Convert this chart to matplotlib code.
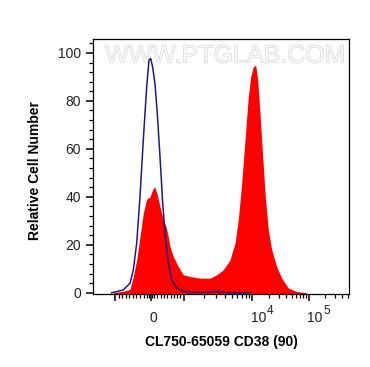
import numpy as np
import matplotlib
matplotlib.use("Agg")
import matplotlib.pyplot as plt
import matplotlib.patheffects as pe
from matplotlib.ticker import MultipleLocator, FixedLocator, NullFormatter
from matplotlib.transforms import blended_transform_factory

plt.rcParams['font.family'] = ['Liberation Sans', 'DejaVu Sans']

# ---- data (x in display channel units of the biexponential axis, y = relative cell number)
control_x = [18.7, 30.3, 37, 40.3, 43.7, 47, 50.3, 53.7, 56, 57.7, 59.7, 62, 64.3, 67, 69.7,
             72.3, 75.3, 78.7, 83.7, 90.3, 100, 107, 120, 125, 130, 137, 157]
control_y = [0, 1.2, 4, 9.5, 20.7, 40, 63.7, 85.9, 97, 97.7, 94, 87, 74.8, 56.7, 37.4,
             23.4, 12.5, 5.4, 2, 0.6, 0.3, 0.2, 0.3, 0.6, 0.3, 0, 0]

sample_x = [20.3, 30.3, 37, 40.3, 43.7, 47, 50.3, 53.7, 57, 59.7, 61.7, 64.3, 67, 70.3, 73,
            75.3, 77, 80.3, 85.3, 90.3, 97, 107, 117, 123.7, 130.3, 137, 142, 145.3, 148.7,
            152, 155.3, 157.7, 160.3, 162.7, 164.7, 167, 169.7, 172.3, 175.3, 178.7, 183.7,
            188.7, 195.3, 203.7, 213.7]
sample_y = [0, 0.7, 1.4, 6.8, 13.7, 23.4, 33.2, 39, 40, 43.1, 44.2, 40.8, 35.9, 30.4, 27.6,
            23.4, 19.3, 15.1, 10.9, 7.5, 6.8, 6.1, 6.1, 7.5, 9.6, 13.7, 20.7, 30.4, 45.6,
            63.7, 81.7, 90, 94.2, 94.9, 88.6, 74.8, 56.7, 40, 26.2, 17.9, 10.9, 6.1, 2, 0.5, 0]

# axis: fluorescence values of the major ticks and their channel positions
major_values = [-1000, 0, 1000, 1e4, 1e5]
major_channels = [22, 57.7, 90.7, 159.3, 215.5]
major_labels = ["", "0", "", "10", "10"]
major_exps = ["", "", "", "4", "5"]

x_label = "CL750-65059 CD38 (90)"
y_label = "Relative Cell Number"


def to_channel(v):
    v = np.asarray(v, dtype=float)
    out = np.empty_like(v)
    lin = np.abs(v) <= 1000
    out[lin] = np.interp(v[lin], major_values[:3], major_channels[:3])
    lg = ~lin
    lv = np.log10(v[lg])
    slope = (major_channels[4] - major_channels[3])
    out[lg] = np.where(lv <= 5,
                       np.interp(lv, [3, 4, 5], major_channels[2:]),
                       major_channels[4] + (lv - 5) * slope)
    return out


minor_vals = ([-v for v in range(100, 1000, 100)] + [-40, 40] + list(range(100, 1000, 100)) +
              [m * 10 ** d for d in (3, 4, 5) for m in range(2, 10)])
minor_ch = [c for c in to_channel(minor_vals) if c <= 256]

fig = plt.figure(figsize=(3.70, 3.67), dpi=100)
ax = fig.add_axes([93 / 370, 1 - 294 / 367, 256 / 370, 255 / 367])

ax.fill_between(sample_x, sample_y, -2, color='#ff0000', linewidth=0, zorder=2)
ax.plot(control_x, control_y, color='#1f1b7d', linewidth=1.1, zorder=3)

ax.set_xlim(0, 256)
ax.set_ylim(-0.5, 105.8)

ax.yaxis.set_major_locator(MultipleLocator(20))
ax.yaxis.set_minor_locator(MultipleLocator(4))
ax.xaxis.set_major_locator(FixedLocator(major_channels))
ax.xaxis.set_minor_locator(FixedLocator(minor_ch))
ax.xaxis.set_major_formatter(NullFormatter())

ax.tick_params(axis='both', which='major', direction='out', length=5, width=1.1, color='black')
ax.tick_params(axis='both', which='minor', direction='out', length=2.8, width=0.9, color='black')
ax.tick_params(axis='y', labelsize=10, pad=3.5, colors='black', labelcolor='#222222')
for s in ax.spines.values():
    s.set_linewidth(0.9)

trans = blended_transform_factory(ax.transData, ax.transAxes)
for ch, lab, ex in zip(major_channels, major_labels, major_exps):
    if lab:
        ax.text(ch - 1, -0.108, lab, transform=trans, ha='left', va='baseline',
                fontsize=10, color='#222222')
    if ex:
        ax.annotate(ex, xy=(ch - 1, -0.108), xycoords=trans, xytext=(11.4, 5.6),
                    textcoords='offset points', ha='left', va='baseline',
                    fontsize=8.5, color='#222222')

ax.set_xlabel(x_label, fontsize=10, fontweight='bold', va='center')
ax.xaxis.set_label_coords(0.5, -0.187)
ax.set_ylabel(y_label, fontsize=10, fontweight='bold', va='center')
ax.yaxis.set_label_coords(-0.227, 0.486)

ax.text(0.516, 0.935, "WWW.PTGLAB.COM", transform=ax.transAxes, ha='center', va='center',
        fontsize=18, color='#f7f7f7', zorder=1,
        path_effects=[pe.withStroke(linewidth=0.8, foreground='#d2d2d2')])

fig.savefig("out.png", dpi=100)
